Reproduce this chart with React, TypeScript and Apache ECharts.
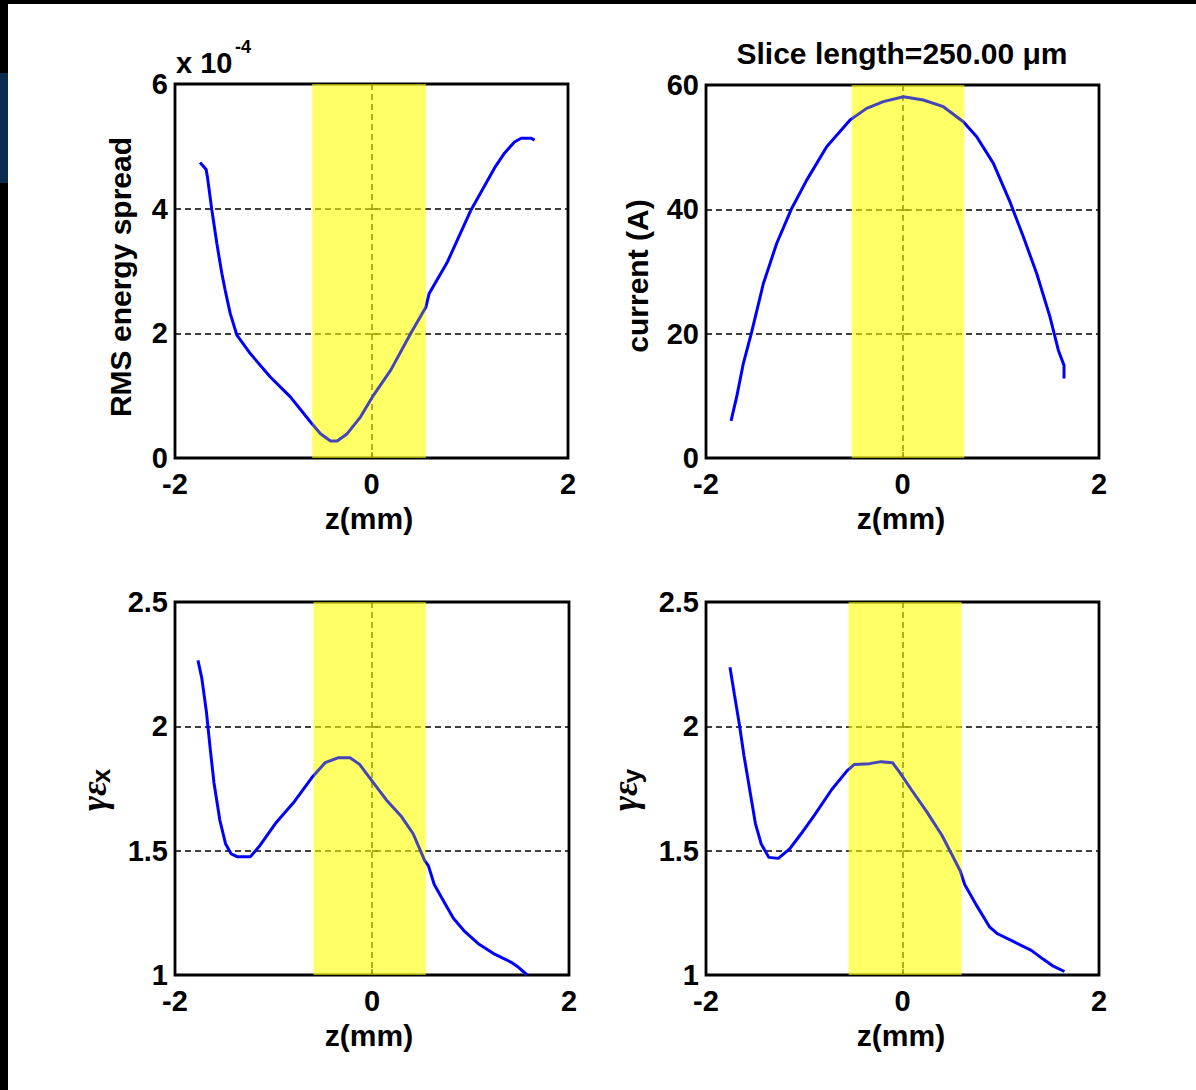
import React, { useEffect, useRef } from 'react';
import * as echarts from 'echarts';

// ---- data ----
// Panel 1: RMS energy spread (x 10^-4) vs z (mm)
const zRms = [-1.745, -1.683, -1.670, -1.626, -1.574, -1.523, -1.489, -1.438, -1.370, -1.234, -1.030, -0.826, -0.621, -0.519, -0.417, -0.349, -0.247, -0.111, 0.009, 0.196, 0.400, 0.553, 0.587, 0.774, 1.013, 1.251, 1.353, 1.455, 1.523, 1.626, 1.660];
const rmsSpread = [4.74, 4.63, 4.51, 3.99, 3.44, 2.96, 2.69, 2.32, 1.97, 1.675, 1.30, 0.98, 0.578, 0.39, 0.273, 0.273, 0.39, 0.66, 0.98, 1.41, 2.00, 2.42, 2.64, 3.15, 3.98, 4.65, 4.89, 5.07, 5.13, 5.13, 5.10];

// Panel 2: current (A) vs z (mm)
const zCur = [-1.745, -1.688, -1.620, -1.535, -1.416, -1.281, -1.128, -0.975, -0.772, -0.534, -0.365, -0.195, 0.009, 0.212, 0.416, 0.619, 0.755, 0.925, 1.094, 1.230, 1.366, 1.501, 1.586, 1.644, 1.644];
const current = [5.96, 9.82, 15.19, 20.29, 28.07, 34.5, 40.14, 44.7, 50.07, 54.37, 56.24, 57.32, 58.12, 57.59, 56.51, 54.1, 51.68, 47.39, 41.2, 35.58, 29.68, 22.7, 17.34, 14.9, 12.77];

// Panel 3: gamma*eps_x vs z (mm)
const zEx = [-1.767, -1.728, -1.681, -1.642, -1.604, -1.545, -1.487, -1.429, -1.370, -1.234, -1.137, -0.981, -0.787, -0.612, -0.476, -0.340, -0.223, -0.126, -0.010, 0.146, 0.301, 0.418, 0.535, 0.573, 0.632, 0.729, 0.826, 0.943, 1.079, 1.234, 1.409, 1.487, 1.576];
const emitX = [2.265, 2.194, 2.058, 1.908, 1.772, 1.623, 1.528, 1.487, 1.476, 1.476, 1.521, 1.609, 1.698, 1.793, 1.854, 1.874, 1.874, 1.847, 1.786, 1.704, 1.636, 1.568, 1.460, 1.439, 1.364, 1.296, 1.228, 1.174, 1.126, 1.086, 1.052, 1.031, 1.000];

// Panel 4: gamma*eps_y vs z (mm)
const zEy = [-1.756, -1.710, -1.659, -1.613, -1.555, -1.497, -1.439, -1.361, -1.264, -1.148, -1.032, -0.896, -0.722, -0.567, -0.490, -0.335, -0.218, -0.102, -0.025, 0.091, 0.246, 0.401, 0.517, 0.587, 0.633, 0.749, 0.885, 0.962, 1.137, 1.311, 1.427, 1.524, 1.648];
const emitY = [2.238, 2.126, 2.004, 1.881, 1.745, 1.609, 1.528, 1.473, 1.469, 1.507, 1.568, 1.643, 1.745, 1.820, 1.847, 1.850, 1.858, 1.854, 1.813, 1.745, 1.657, 1.562, 1.473, 1.419, 1.364, 1.283, 1.194, 1.167, 1.133, 1.099, 1.065, 1.038, 1.014];

// Highlighted slice bands [from, to] in z (mm)
const bandRms = [-0.604, 0.553];
const bandCur = [-0.517, 0.629];
const bandEx = [-0.593, 0.546];
const bandEy = [-0.548, 0.602];

// Axis ranges [min, max, interval]
const xRange = [-2, 2, 2];
const yRangeRms = [0, 6, 2];
const yRangeCur = [0, 60, 20];
const yRangeEmit = [1, 2.5, 0.5];

const titleText = 'Slice length=250.00 \u03bcm';
const xName = 'z(mm)';

const FONT = '"Liberation Sans", Arial, Helvetica, sans-serif';
const SERIF = '"Liberation Serif", "DejaVu Serif", serif';

const zip = (a: number[], b: number[]) => a.map((v, i) => [v, b[i]]);

export default function App() {
  const ref = useRef<HTMLDivElement>(null);

  useEffect(() => {
    if (!ref.current) return;
    const chart = echarts.init(ref.current, undefined, { renderer: 'svg' });

    const gridBoxes = [
      { left: 175, top: 84, width: 393, height: 374 },
      { left: 706, top: 85, width: 393, height: 373 },
      { left: 175, top: 602, width: 394, height: 373 },
      { left: 706, top: 602, width: 393, height: 373 },
    ];
    const yRanges = [yRangeRms, yRangeCur, yRangeEmit, yRangeEmit];
    const datasets = [zip(zRms, rmsSpread), zip(zCur, current), zip(zEx, emitX), zip(zEy, emitY)];
    const bands = [bandRms, bandCur, bandEx, bandEy];

    const labelStyle = { color: '#000', fontFamily: FONT, fontWeight: 'bold' as const, fontSize: 29 };
    const dashed = { color: '#000', type: [6, 4] as any, width: 1.5 };

    const grid = gridBoxes.map((g) => ({ ...g, show: true, borderColor: '#000', borderWidth: 2.8, backgroundColor: 'transparent' }));
    const xAxis = gridBoxes.map((_, i) => ({
      type: 'value' as const,
      gridIndex: i,
      min: xRange[0],
      max: xRange[1],
      interval: xRange[2],
      axisLine: { show: false },
      axisTick: { show: true, inside: true, length: 6, lineStyle: { color: '#000', width: 1.5 } },
      axisLabel: { ...labelStyle, margin: 11 },
      splitLine: { show: true, lineStyle: dashed },
    }));
    const yAxis = gridBoxes.map((_, i) => ({
      type: 'value' as const,
      gridIndex: i,
      min: yRanges[i][0],
      max: yRanges[i][1],
      interval: yRanges[i][2],
      axisLine: { show: false },
      axisTick: { show: true, inside: true, length: 6, lineStyle: { color: '#000', width: 1.5 } },
      axisLabel: { ...labelStyle, margin: 7 },
      splitLine: { show: true, lineStyle: dashed },
    }));

    const series: any[] = [];
    datasets.forEach((d, i) => {
      series.push({
        type: 'line',
        xAxisIndex: i,
        yAxisIndex: i,
        data: d,
        showSymbol: false,
        symbol: 'none',
        z: 3,
        lineStyle: { color: '#0000ff', width: 3 },
        markArea: {
          silent: true,
          z: 1,
          itemStyle: { color: 'rgba(255,255,0,0.45)' },
          data: [[{ xAxis: bands[i][0] }, { xAxis: bands[i][1] }]],
        },
      });
      series.push({
        type: 'line',
        xAxisIndex: i,
        yAxisIndex: i,
        data: d,
        showSymbol: false,
        symbol: 'none',
        z: 4,
        lineStyle: { opacity: 0 },
        markArea: {
          silent: true,
          z: 6,
          itemStyle: { color: 'rgba(255,255,0,0.27)' },
          data: [[{ xAxis: bands[i][0] }, { xAxis: bands[i][1] }]],
        },
      });
    });

    const rotText = (text: string, x: number, y: number, extra: any = {}) => ({
      type: 'text',
      x,
      y,
      rotation: Math.PI / 2,
      z: 20,
      style: { text, fill: '#000', font: `bold 30px ${FONT}`, align: 'center', verticalAlign: 'middle', ...extra },
    });

    const graphic: any[] = [
      { type: 'text', x: 902, y: 53, z: 20, style: { text: titleText, fill: '#000', font: `bold 30px ${FONT}`, align: 'center', verticalAlign: 'middle' } },
      { type: 'text', x: 176, y: 63, z: 20, style: { text: 'x 10', fill: '#000', font: `bold 29px ${FONT}`, align: 'left', verticalAlign: 'middle' } },
      { type: 'text', x: 235, y: 47, z: 20, style: { text: '-4', fill: '#000', font: `bold 18px ${FONT}`, align: 'left', verticalAlign: 'middle' } },
      rotText('RMS energy spread', 120, 277),
      rotText('current (A)', 637, 276),
      rotText('\u03b3\u03b5', 94, 796, { font: `bold italic 36px ${SERIF}` }),
      rotText('x', 101, 776, { font: `bold 26px ${FONT}` }),
      rotText('\u03b3\u03b5', 625, 796, { font: `bold italic 36px ${SERIF}` }),
      rotText('y', 632, 776, { font: `bold 26px ${FONT}` }),
      { type: 'text', x: 369, y: 518, z: 20, style: { text: xName, fill: '#000', font: `bold 30px ${FONT}`, align: 'center', verticalAlign: 'middle' } },
      { type: 'text', x: 901, y: 518, z: 20, style: { text: xName, fill: '#000', font: `bold 30px ${FONT}`, align: 'center', verticalAlign: 'middle' } },
      { type: 'text', x: 369, y: 1035, z: 20, style: { text: xName, fill: '#000', font: `bold 30px ${FONT}`, align: 'center', verticalAlign: 'middle' } },
      { type: 'text', x: 901, y: 1035, z: 20, style: { text: xName, fill: '#000', font: `bold 30px ${FONT}`, align: 'center', verticalAlign: 'middle' } },
    ];

    chart.setOption({
      animation: false,
      backgroundColor: 'transparent',
      grid,
      xAxis,
      yAxis,
      series,
      graphic,
    });

    return () => chart.dispose();
  }, []);

  return (
    <div style={{ position: 'fixed', left: 0, top: 0, width: 1196, height: 1090, background: '#000', overflow: 'hidden' }}>
      <div style={{ position: 'absolute', left: 8, top: 4, width: 1188, height: 1086, background: '#fff' }} />
      <div style={{ position: 'absolute', left: 0, top: 73, width: 8, height: 110, background: '#0a2c50' }} />
      <div ref={ref} style={{ position: 'absolute', left: 0, top: 0, width: 1196, height: 1090 }} />
    </div>
  );
}
